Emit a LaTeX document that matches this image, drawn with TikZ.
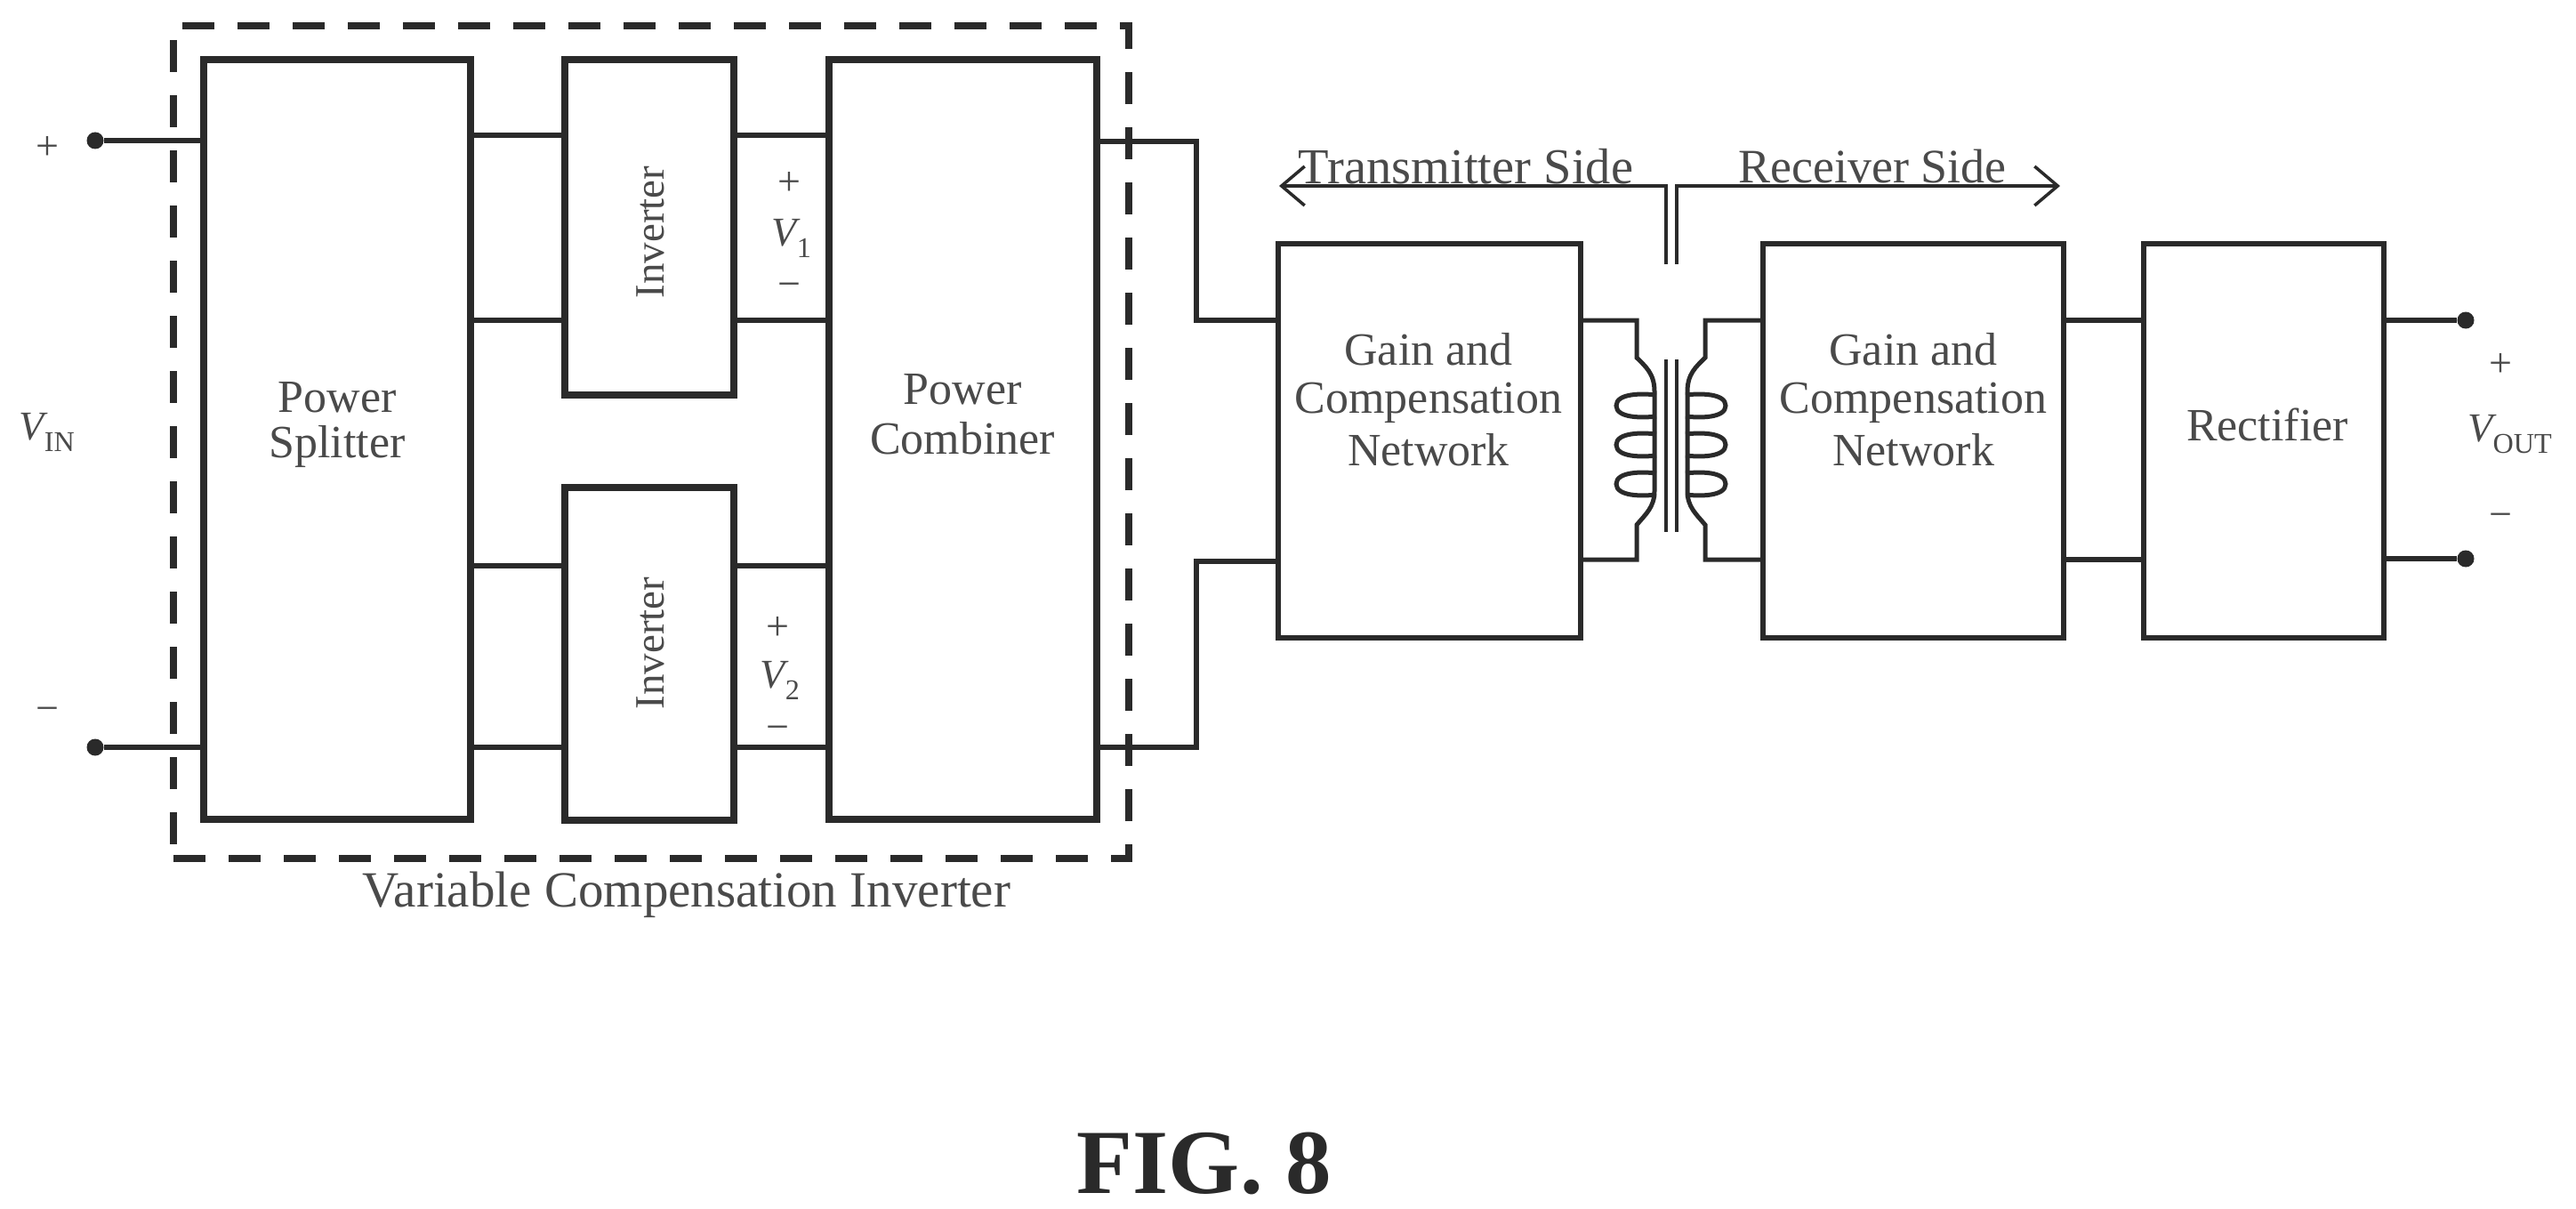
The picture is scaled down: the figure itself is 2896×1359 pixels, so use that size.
\documentclass[tikz,border=0pt]{standalone}
\usepackage{fontspec}
\setmainfont{Liberation Serif}
\usetikzlibrary{arrows.meta,calc}
\definecolor{ink}{HTML}{2A2A2A}
\definecolor{txt}{HTML}{4A4A4A}
\tikzset{
  thickbox/.style={draw=ink,line width=8pt,inner sep=0pt,outer sep=0pt,rectangle,anchor=north west},
  thinbox/.style={draw=ink,line width=5.5pt,inner sep=0pt,outer sep=0pt,rectangle,anchor=north west},
  wire/.style={draw=ink,line width=5.5pt,line join=miter},
  lab/.style={font=\fontsize{52}{52}\selectfont,text=txt,inner sep=0pt},
  sym/.style={font=\fontsize{46}{46}\selectfont,text=txt,inner sep=0pt},
  vv/.style={font=\fontsize{46}{46}\selectfont\itshape,text=txt,inner sep=0pt},
  term/.style={circle,fill=ink,inner sep=0pt,minimum size=19pt},
  frame/.style={draw=ink,line width=8pt,dash pattern=on 36pt off 26pt},
  coil/.style={draw=ink,line width=5pt},
  core/.style={draw=ink,line width=4.5pt},
}
\begin{document}
\begin{tikzpicture}[x=1pt,y=-1pt]
\useasboundingbox (0,0) rectangle (2896,1359);
% rows
\coordinate (ya) at (0,152);
\coordinate (yb) at (0,360);
\coordinate (yc) at (0,636);
\coordinate (yd) at (0,840);
\coordinate (yin) at (0,158);
\coordinate (ye) at (0,629);
% dashed frame
\node[frame,rectangle,inner sep=0pt,anchor=north west,minimum width=1074pt,minimum height=936pt] (inv) at (191,25) {};
% blocks
\node[thickbox,minimum width=300pt,minimum height=854pt] (split) at (229,67) {};
\node[thickbox,minimum width=190pt,minimum height=377pt] (inva) at (635,67) {};
\node[thickbox,minimum width=190pt,minimum height=374pt] (invb) at (635,548) {};
\node[thickbox,minimum width=301pt,minimum height=854pt] (comb) at (932,67) {};
\node[thinbox,minimum width=340pt,minimum height=443pt] (gaina) at (1437,274) {};
\node[thinbox,minimum width=338pt,minimum height=443pt] (gainb) at (1982,274) {};
\node[thinbox,minimum width=270pt,minimum height=443pt] (rect) at (2410,274) {};
% terminals
\node[term] (pin) at (107,158) {};
\node[term] (nin) at (107,840) {};
\node[term] (pout) at (2772,360) {};
\node[term] (nout) at (2772,628) {};
% wires, left part
\draw[wire] (pin) -- (split.west |- pin);
\draw[wire] (nin) -- (split.west |- nin);
\draw[wire] (split.east |- ya) -- (inva.west |- ya);
\draw[wire] (split.east |- yb) -- (inva.west |- yb);
\draw[wire] (split.east |- yc) -- (invb.west |- yc);
\draw[wire] (split.east |- yd) -- (invb.west |- yd);
\draw[wire] (inva.east |- ya) -- (comb.west |- ya);
\draw[wire] (inva.east |- yb) -- (comb.west |- yb);
\draw[wire] (invb.east |- yc) -- (comb.west |- yc);
\draw[wire] (invb.east |- yd) -- (comb.west |- yd);
% combiner to gain
\coordinate (ja) at (1345,159);
\coordinate (jb) at (1345,631);
\draw[wire] (comb.east |- ja) -- (ja) -- (ja |- yb) -- (gaina.west |- yb);
\draw[wire] (comb.east |- yd) -- (jb |- yd) -- (jb) -- (gaina.west |- jb);
% right part
\draw[wire] (gainb.east |- yb) -- (rect.west |- yb);
\draw[wire] (gainb.east |- ye) -- (rect.west |- ye);
\draw[wire] (rect.east |- pout) -- (pout);
\draw[wire] (rect.east |- nout) -- (nout);
% transformer
\coordinate (la) at (1840,360);
\coordinate (lb) at (1840,629);
\coordinate (ra) at (1917,360);
\coordinate (rb) at (1917,629);
\draw[coil] (gaina.east |- la) -- (la) -- (1840,402) .. controls (1850,412) and (1860,420) .. (1860,440)
  -- (1860,552) .. controls (1860,570) and (1850,578) .. (1840,590) -- (lb) -- (gaina.east |- lb);
\draw[coil] (gainb.west |- ra) -- (ra) -- (1917,402) .. controls (1907,412) and (1897,420) .. (1897,440)
  -- (1897,552) .. controls (1897,570) and (1907,578) .. (1917,590) -- (rb) -- (gainb.west |- rb);
\foreach \yy in {456,500,544}{
  \draw[coil] (1862,\yy-12) .. controls (1846,\yy-14) and (1817,\yy-14) .. (1817,\yy) .. controls (1817,\yy+14) and (1846,\yy+14) .. (1862,\yy+12);
  \draw[coil] (1895,\yy-12) .. controls (1911,\yy-14) and (1940,\yy-14) .. (1940,\yy) .. controls (1940,\yy+14) and (1911,\yy+14) .. (1895,\yy+12);
}
\draw[core] (1873,404) -- (1873,598);
\draw[core] (1885,404) -- (1885,598);
% side arrows
\coordinate (ta) at (1873,209);
\coordinate (tb) at (1885,209);
\coordinate (tc) at (1438,209);
\coordinate (td) at (2316,209);
\draw[core,-{Straight Barb[length=26pt,width=44pt,line width=3.5pt]}] (1873,297) -- (ta) -- (tc);
\draw[core,-{Straight Barb[length=26pt,width=44pt,line width=3.5pt]}] (1885,297) -- (tb) -- (td);
% labels
\node[lab,align=center] (tsplita) at (379,447) {Power};
\node[lab,align=center] (tsplitb) at (379,502) {Splitter};
\node[lab] (tcomba) at (1082,438) {Power};
\node[lab] (tcombb) at (1082,493) {Combiner};
\node[lab,rotate=90,font=\fontsize{47}{47}\selectfont] (tinva) at (731,261) {Inverter};
\node[lab,rotate=90,font=\fontsize{47}{47}\selectfont] (tinvb) at (731,723) {Inverter};
\node[lab] (tga) at (1606,393) {Gain and};
\node[lab] (tgb) at (1606,453) {Compensation};
\node[lab] (tgc) at (1606,506) {Network};
\node[lab] (tgd) at (2151,393) {Gain and};
\node[lab] (tge) at (2151,453) {Compensation};
\node[lab] (tgf) at (2151,506) {Network};
\node[lab] (trect) at (2549,477) {Rectifier};
\node[lab,font=\fontsize{56.5}{56.5}\selectfont] (ttx) at (1648,187) {Transmitter Side};
\node[lab,font=\fontsize{54}{54}\selectfont] (trx) at (2105,187) {Receiver Side};
\node[lab,font=\fontsize{57}{57}\selectfont] (tvci) at (772,1006) {Variable Compensation Inverter};
\node[font=\fontsize{103}{103}\selectfont\bfseries,text=ink,inner sep=0pt] (tfig) at (1354,1308) {FIG. 8};
% polarity
\node[sym] (ip) at (53,167) {+};
\node[sym] (im) at (53,803) {−};
\node[vv] (vin) at (53,486) {V\textsubscript{\upshape IN}};
\node[sym] (p1) at (887,207) {+};
\node[vv] (v1) at (890,268) {V\textsubscript{\upshape 1}};
\node[sym] (m1) at (887,326) {−};
\node[sym] (p2) at (874,706) {+};
\node[vv] (v2) at (877,765) {V\textsubscript{\upshape 2}};
\node[sym] (m2) at (874,824) {−};
\node[sym] (op) at (2811,411) {+};
\node[vv] (vout) at (2822,488) {V\textsubscript{\upshape OUT}};
\node[sym] (om) at (2811,585) {−};
\end{tikzpicture}
\end{document}
